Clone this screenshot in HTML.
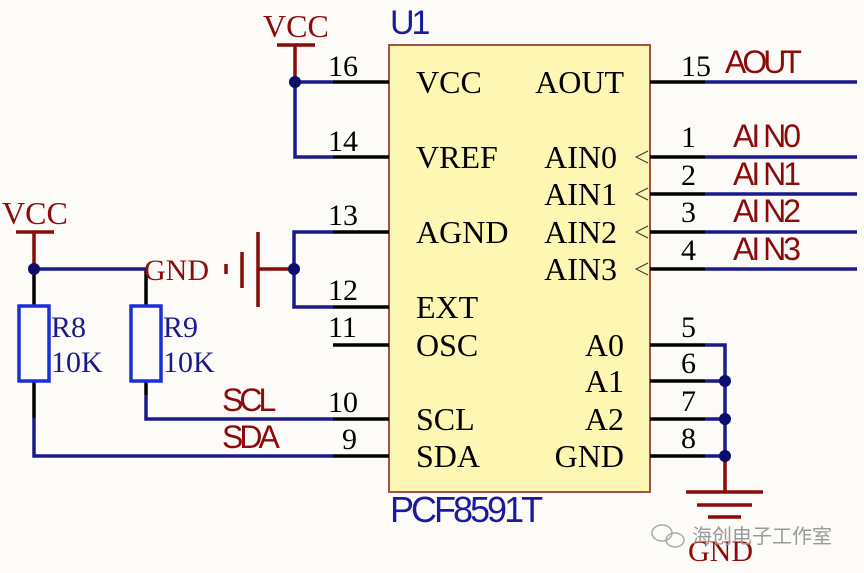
<!DOCTYPE html>
<html><head><meta charset="utf-8"><style>
html,body{margin:0;padding:0;background:#fdfbf7;}
svg{display:block}
.s{font-family:"Liberation Serif",serif;}
.a{font-family:"Liberation Sans",sans-serif;}
</style></head><body>
<svg width="864" height="573" viewBox="0 0 864 573" xmlns="http://www.w3.org/2000/svg">
<rect width="864" height="573" fill="#fdfbf7"/>
<rect x="389" y="45" width="261" height="447" fill="#fdf7b3" stroke="#a0524a" stroke-width="2"/>
<g fill="none" stroke-width="3.5">
<g stroke="#000">
<line x1="333" y1="82" x2="389" y2="82"/>
<line x1="333" y1="157" x2="389" y2="157"/>
<line x1="333" y1="232" x2="389" y2="232"/>
<line x1="333" y1="307" x2="389" y2="307"/>
<line x1="333" y1="345" x2="389" y2="345"/>
<line x1="333" y1="419" x2="389" y2="419"/>
<line x1="333" y1="456" x2="389" y2="456"/>
<line x1="650" y1="82" x2="705" y2="82"/>
<line x1="650" y1="157" x2="705" y2="157"/>
<line x1="650" y1="194" x2="705" y2="194"/>
<line x1="650" y1="232" x2="705" y2="232"/>
<line x1="650" y1="269" x2="705" y2="269"/>
<line x1="650" y1="345" x2="705" y2="345"/>
<line x1="650" y1="381" x2="705" y2="381"/>
<line x1="650" y1="419" x2="705" y2="419"/>
<line x1="650" y1="456" x2="705" y2="456"/>
<line x1="34" y1="269" x2="34" y2="306"/>
<line x1="146" y1="269" x2="146" y2="306"/>
<line x1="34" y1="381" x2="34" y2="418"/>
<line x1="146" y1="381" x2="146" y2="395"/>
</g>
<g stroke="#1a1a8c">
<polyline points="295,82 333,82"/>
<polyline points="295,82 295,157 333,157"/>
<polyline points="333,232 294,232 294,307 333,307"/>
<polyline points="34,269 146,269"/>
<polyline points="146,395 146,419 333,419"/>
<polyline points="34,418 34,456 333,456"/>
<line x1="705" y1="82" x2="857" y2="82"/>
<line x1="705" y1="157" x2="857" y2="157"/>
<line x1="705" y1="194" x2="857" y2="194"/>
<line x1="705" y1="232" x2="857" y2="232"/>
<line x1="705" y1="269" x2="857" y2="269"/>
<polyline points="705,345 725,345 725,456 705,456"/>
<line x1="705" y1="381" x2="725" y2="381"/>
<line x1="705" y1="419" x2="725" y2="419"/>
</g>
<g stroke="#8b0a0a">
<line x1="277" y1="45" x2="315" y2="45"/>
<line x1="295" y1="45" x2="295" y2="82"/>
<line x1="16" y1="232" x2="54" y2="232"/>
<line x1="34" y1="232" x2="34" y2="269"/>
<line x1="258" y1="269" x2="294" y2="269"/>
<line x1="258" y1="232" x2="258" y2="307"/>
<line x1="242" y1="252" x2="242" y2="288"/>
<line x1="226" y1="264" x2="226" y2="274"/>
<line x1="725" y1="456" x2="725" y2="492"/>
<line x1="686" y1="492" x2="763" y2="492"/>
<line x1="697" y1="505" x2="752" y2="505"/>
<line x1="708" y1="517" x2="741" y2="517"/>
</g>
<g stroke="#1c2fd6">
<rect x="19" y="306" width="30" height="75"/>
<rect x="131" y="306" width="30" height="75"/>
</g>
<g stroke="#333" stroke-width="1">
<polyline points="648,151 636,157 648,163"/>
<polyline points="648,188 636,194 648,200"/>
<polyline points="648,226 636,232 648,238"/>
<polyline points="648,263 636,269 648,275"/>
</g>
</g>
<g fill="#0d0d6e">
<circle cx="295" cy="82" r="6"/>
<circle cx="34" cy="269" r="6"/>
<circle cx="294" cy="269" r="6"/>
<circle cx="725" cy="381" r="6"/>
<circle cx="725" cy="419" r="6"/>
<circle cx="725" cy="456" r="6"/>
</g>
<g class="s" font-size="32" fill="#000">
<text x="416" y="93">VCC</text>
<text x="416" y="168">VREF</text>
<text x="416" y="243">AGND</text>
<text x="416" y="318">EXT</text>
<text x="416" y="356">OSC</text>
<text x="416" y="430">SCL</text>
<text x="416" y="467">SDA</text>
<g text-anchor="end">
<text x="624" y="93">AOUT</text>
<text x="617" y="168">AIN0</text>
<text x="617" y="205">AIN1</text>
<text x="617" y="243">AIN2</text>
<text x="617" y="280">AIN3</text>
<text x="624" y="356">A0</text>
<text x="624" y="392">A1</text>
<text x="624" y="430">A2</text>
<text x="624" y="467">GND</text>
</g>
</g>
<g class="s" font-size="30" fill="#000">
<text x="328" y="76">16</text>
<text x="328" y="151">14</text>
<text x="328" y="225">13</text>
<text x="328" y="300">12</text>
<text x="328" y="337">11</text>
<text x="328" y="412">10</text>
<text x="342" y="449">9</text>
<text x="681" y="76">15</text>
<text x="681" y="147">1</text>
<text x="681" y="185">2</text>
<text x="681" y="222">3</text>
<text x="681" y="260">4</text>
<text x="681" y="337">5</text>
<text x="681" y="373">6</text>
<text x="681" y="411">7</text>
<text x="681" y="448">8</text>
</g>
<g class="s" font-size="32" fill="#8b0a0a">
<text x="263" y="37">VCC</text>
<text x="2" y="224">VCC</text>
<text x="144" y="280" font-size="30">GND</text>
<text x="688" y="561" font-size="30">GND</text>
</g>
<g class="a" font-size="32" fill="#8b0a0a" letter-spacing="-4">
<text x="725" y="73">AOUT</text>
<text x="733" y="147" letter-spacing="-3">AI N0</text>
<text x="733" y="185" letter-spacing="-3">AI N1</text>
<text x="733" y="222" letter-spacing="-3">AI N2</text>
<text x="733" y="260" letter-spacing="-3">AI N3</text>
<text x="222" y="411">SCL</text>
<text x="222" y="448">SDA</text>
</g>
<g class="s" font-size="30" fill="#1a1a8c">
<text x="51" y="337">R8</text>
<text x="51" y="372">10K</text>
<text x="163" y="337">R9</text>
<text x="163" y="372">10K</text>
</g>
<g class="a" fill="#1a1aa0" letter-spacing="-3">
<text x="390" y="34" font-size="34">U1</text>
<text x="390" y="522" font-size="36">PCF8591T</text>
</g>
<text x="692" y="543" font-family="'Liberation Sans','Noto Sans CJK SC',sans-serif" font-size="20" fill="#9a9a9a">海创电子工作室</text>
<g fill="none" stroke="#aaa" stroke-width="1.5">
<ellipse cx="662" cy="533" rx="10" ry="8"/>
<ellipse cx="675" cy="540" rx="9" ry="7"/>
</g>
</svg>
</body></html>
